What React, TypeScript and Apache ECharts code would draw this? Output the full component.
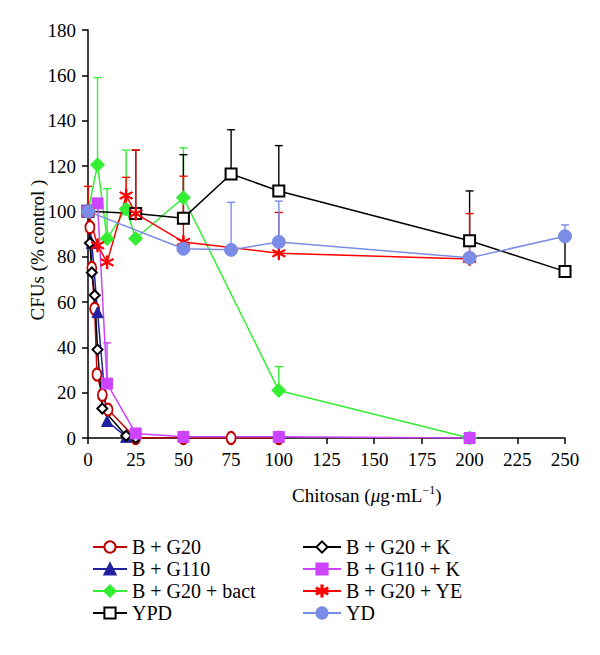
import React, { useEffect, useRef } from "react";
import * as echarts from "echarts";

// ---- data ----
const xTicks = [0, 25, 50, 75, 100, 125, 150, 175, 200, 225, 250];
const yTicks = [0, 20, 40, 60, 80, 100, 120, 140, 160, 180];

const xG20 = [0, 1, 2, 3.5, 4.7, 7.5, 10.5, 25, 50, 75, 100];
const yG20 = [100, 93, 75, 57, 28, 19, 12.5, 0, 0, 0, 0];

const xG110 = [0, 2, 5, 10, 20];
const yG110 = [100, 86, 55.5, 7.5, 0.5];

const xBact = [0, 5, 10, 20, 25, 50, 100, 200];
const yBact = [100, 120.5, 88, 101, 88, 106, 21, 0];
const eBact = [0, 38.5, 22, 26, 0, 22, 10.5, 0];

const xYPD = [0, 25, 50, 75, 100, 200, 250];
const yYPD = [100, 99, 97, 116.5, 109, 87, 73.5];
const eYPD = [0, 28, 28, 19.5, 20, 22, 15];

const xG20K = [0, 1, 2, 3.5, 5, 7.5, 20, 25];
const yG20K = [100, 86, 73, 63, 39, 13, 1, 0];

const xG110K = [0, 5, 10, 25, 50, 100, 200];
const yG110K = [100, 103.5, 24, 2, 0.5, 0.5, 0];
const eG110K = [0, 0, 18, 0, 0, 0, 0];

const xYE = [0, 5, 10, 20, 25, 50, 100, 200];
const yYE = [100, 85, 77.5, 107, 99, 86.5, 81.5, 79];
const eYE = [11, 0, 0, 8, 28, 29, 18, 20];

const xYD = [0, 50, 75, 100, 200, 250];
const yYD = [100, 83.5, 83, 86.5, 79.5, 89];
const eYD = [0, 0, 21, 18, 5, 5];

const legendCol1 = ["B + G20", "B + G110", "B + G20 + bact", "YPD"];
const legendCol2 = ["B + G20 + K", "B + G110 + K", "B + G20 + YE", "YD"];

const FONT = "Liberation Serif";

const STAR =
  "path://M4.5,0 L5.5,0 L5.5,10 L4.5,10 Z M0.92,7.93 L9.58,2.93 L9.08,2.07 L0.42,7.07 Z M0.42,2.93 L9.08,7.93 L9.58,7.07 L0.92,2.07 Z";

function pairs(xs: number[], ys: number[]) {
  return xs.map((x, i) => [x, ys[i]]);
}

function errSeries(color: string, xs: number[], ys: number[], es: number[]) {
  const data = xs
    .map((x, i) => [x, ys[i], ys[i] + es[i]])
    .filter((d, i) => es[i] > 0);
  return {
    type: "custom",
    z: 1,
    silent: true,
    data,
    encode: { x: 0, y: [1, 2] },
    renderItem: (params: any, api: any) => {
      const p0 = api.coord([api.value(0), api.value(1)]);
      const p1 = api.coord([api.value(0), api.value(2)]);
      return {
        type: "group",
        children: [
          {
            type: "line",
            shape: { x1: p0[0], y1: p0[1], x2: p1[0], y2: p1[1] },
            style: { stroke: color, lineWidth: 1.4 },
          },
          {
            type: "line",
            shape: { x1: p1[0] - 4, y1: p1[1], x2: p1[0] + 4, y2: p1[1] },
            style: { stroke: color, lineWidth: 1.4 },
          },
        ],
      };
    },
  };
}

function lineSeries(
  name: string,
  color: string,
  xs: number[],
  ys: number[],
  symbol: string,
  size: any,
  hollow = false
) {
  return {
    name,
    type: "line",
    z: 3,
    data: pairs(xs, ys),
    symbol,
    symbolSize: size,
    showAllSymbol: true,
    lineStyle: { color, width: 1.5 },
    itemStyle: hollow
      ? { color, borderWidth: 1.5 }
      : { color, borderColor: color, borderWidth: 1 },
  };
}

export default function App() {
  const ref = useRef<HTMLDivElement>(null);
  useEffect(() => {
    if (!ref.current) return;
    const chart = echarts.init(ref.current, undefined, { renderer: "svg" });
    const legendCommon = {
      orient: "vertical",
      top: 532,
      itemHeight: 14,
      itemGap: 2,
      textStyle: { fontFamily: FONT, fontSize: 20, color: "#000" },
      selectedMode: false,
    };
    chart.setOption({
      animation: false,
      backgroundColor: "#fff",
      grid: { left: 88, right: 35, top: 30, bottom: 217, containLabel: false },
      xAxis: {
        type: "value",
        min: 0,
        max: 250,
        interval: 25,
        axisLine: { lineStyle: { color: "#000", width: 1.5 } },
        axisTick: { show: true, length: 6, lineStyle: { color: "#000", width: 1.5 } },
        splitLine: { show: false },
        axisLabel: {
          margin: 12,
          fontFamily: FONT,
          fontSize: 19,
          color: "#000",
          formatter: (v: number) => (xTicks.includes(v) ? String(v) : ""),
        },
      },
      yAxis: {
        type: "value",
        min: 0,
        max: 180,
        interval: 20,
        axisLine: { show: true, lineStyle: { color: "#000", width: 1.5 } },
        axisTick: { show: true, length: 6, lineStyle: { color: "#000", width: 1.5 } },
        splitLine: { show: false },
        axisLabel: {
          margin: 12,
          fontFamily: FONT,
          fontSize: 19,
          color: "#000",
          formatter: (v: number) => (yTicks.includes(v) ? String(v) : ""),
        },
      },
      legend: [
        { ...legendCommon, left: 87, itemWidth: 34, data: legendCol1 },
        { ...legendCommon, left: 297, itemWidth: 38, data: legendCol2 },
      ],
      graphic: [
        {
          type: "text",
          left: 292,
          top: 484,
          style: {
            text: "{a|Chitosan (}{i|μ}{a|g·mL}{s|−1}{a|)}",
            rich: {
              a: { fontFamily: FONT, fontSize: 19, fill: "#000", color: "#000" },
              i: { fontFamily: FONT, fontSize: 19, fontStyle: "italic", fill: "#000", color: "#000" },
              s: { fontFamily: FONT, fontSize: 12, fill: "#000", color: "#000", verticalAlign: "top", padding: [0, 0, 10, 0] },
            },
          },
        },
        {
          type: "text",
          x: 37,
          y: 250,
          rotation: Math.PI / 2,
          style: {
            text: "CFUs (% control )",
            fontFamily: FONT,
            fontSize: 19,
            fill: "#000",
            textAlign: "center",
            textVerticalAlign: "middle",
          },
        },
      ],
      series: [
        errSeries("#33EE33", xBact, yBact, eBact),
        errSeries("#000000", xYPD, yYPD, eYPD),
        errSeries("#CC44FF", xG110K, yG110K, eG110K),
        errSeries("#FF0000", xYE, yYE, eYE),
        errSeries("#7B8CE6", xYD, yYD, eYD),
        lineSeries("B + G20", "#C00000", xG20, yG20, "emptyCircle", [9, 12], true),
        lineSeries("B + G110", "#2020A0", xG110, yG110, "triangle", 11),
        lineSeries("B + G20 + bact", "#33EE33", xBact, yBact, "diamond", 14),
        lineSeries("YPD", "#000000", xYPD, yYPD, "emptyRect", 11, true),
        lineSeries("B + G20 + K", "#000000", xG20K, yG20K, "emptyDiamond", 10, true),
        lineSeries("B + G110 + K", "#CC44FF", xG110K, yG110K, "rect", 11),
        lineSeries("B + G20 + YE", "#FF0000", xYE, yYE, STAR, 13),
        lineSeries("YD", "#7B8CE6", xYD, yYD, "circle", 13),
      ],
    });
    return () => chart.dispose();
  }, []);
  return <div ref={ref} style={{ width: 600, height: 655, margin: -8 }} />;
}
